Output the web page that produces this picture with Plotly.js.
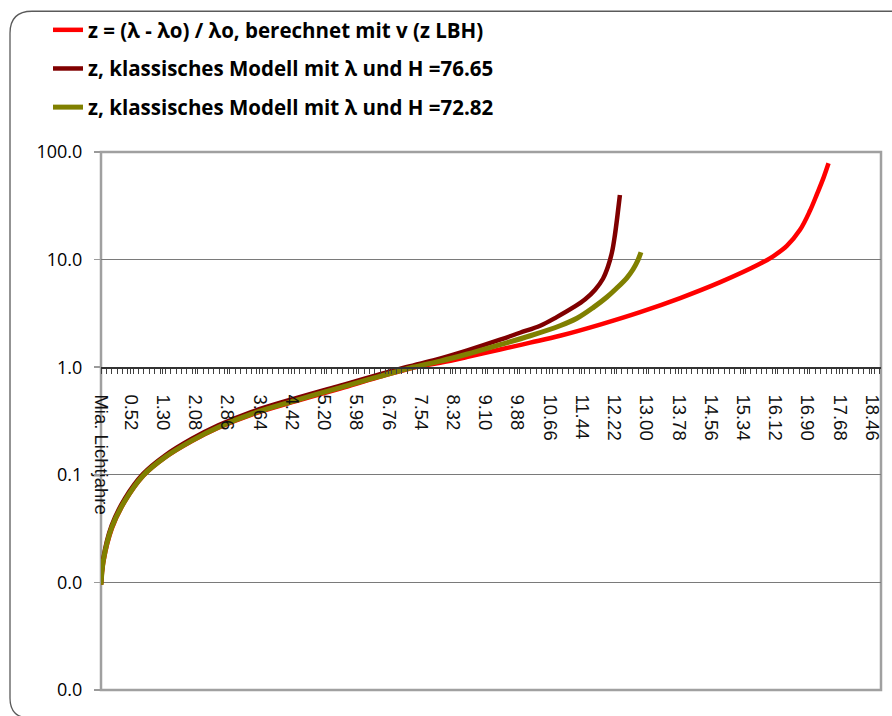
<!DOCTYPE html>
<html>
<head>
<meta charset="utf-8">
<script src="https://cdn.plot.ly/plotly-3.0.1.min.js"></script>
<style>html,body{margin:0;padding:0;background:#fff;}#chart{width:892px;height:716px;}</style>
</head>
<body>
<div id="chart"></div>
<script>
// Tick labels of the category axis (Mia. Lichtjahre)
const tickLabels = ["Mia. Lichtjahre","0.52","1.30","2.08","2.86","3.64","4.42","5.20","5.98","6.76","7.54","8.32","9.10","9.88","10.66","11.44","12.22","13.00","13.78","14.56","15.34","16.12","16.90","17.68","18.46"];
const tickPositions = [-0.2,0.52,1.30,2.08,2.86,3.64,4.42,5.20,5.98,6.76,7.54,8.32,9.10,9.88,10.66,11.44,12.22,13.00,13.78,14.56,15.34,16.12,16.90,17.68,18.46];

// Series names
const seriesNames = [
  "z = (λ - λo) / λo, berechnet mit v (z LBH)",
  "z, klassisches Modell mit λ und H =76.65",
  "z, klassisches Modell mit λ und H =72.82"
];

// Red series: z from v (z LBH)
const distRed = [-0.2,-0.14,0.06,0.38,0.82,1.35,2.0,2.64,3.45,4.5,5.59,6.5,7.40,8.01,8.65,9.46,10.19,10.91,11.88,12.85,13.82,14.79,15.75,16.07,16.40,16.72,16.96,17.13,17.29,17.41];
const zRed = [0.0095,0.0158,0.0316,0.0569,0.0977,0.145,0.206,0.274,0.363,0.481,0.634,0.804,1.0,1.10,1.24,1.46,1.69,1.96,2.49,3.25,4.39,6.17,9.14,10.74,13.4,18.9,28.4,40.6,57.8,78.5];

// Dark red series: classical model H = 76.65
const distDark = [-0.2,-0.14,0.06,0.38,0.82,1.35,2.0,2.64,3.45,4.5,5.59,7.18,7.91,8.65,9.46,9.94,10.43,10.83,11.23,11.52,11.76,11.95,12.07,12.17,12.24,12.30,12.36];
const zDark = [0.0097,0.0170,0.0339,0.0603,0.102,0.151,0.216,0.288,0.385,0.513,0.675,1.0,1.175,1.426,1.80,2.09,2.43,2.92,3.59,4.28,5.25,6.64,8.57,11.8,17.0,25.5,39.9];

// Olive series: classical model H = 72.82
const distOlive = [-0.2,-0.14,0.06,0.38,0.82,1.35,2.0,2.64,3.45,4.5,5.59,6.5,7.35,8.01,8.65,9.46,10.19,10.91,11.32,11.72,12.04,12.28,12.53,12.68,12.79,12.87];
const zOlive = [0.0095,0.0162,0.0324,0.0575,0.0986,0.146,0.208,0.277,0.369,0.490,0.646,0.813,1.0,1.14,1.32,1.62,1.96,2.43,2.85,3.60,4.47,5.42,6.78,8.13,9.75,11.7];

// Y tick labels (Excel number format 0.0)
const yTickVals = [0.001,0.01,0.1,1,10,100];
const yTickText = ["0.0","0.0","0.1","1.0","10.0","100.0"];

const traces = [
  {x: distRed, y: zRed, name: seriesNames[0], legendgroup:'a', mode:'lines',
   line:{color:'#FF0000', width:4.5, shape:'spline', smoothing:1}},
  {x: distDark, y: zDark, name: seriesNames[1], legendgroup:'b', mode:'lines',
   line:{color:'#800000', width:4.5, shape:'spline', smoothing:1}},
  {x: distOlive, y: zOlive, name: seriesNames[2], legendgroup:'c', mode:'lines',
   line:{color:'#808000', width:5, shape:'spline', smoothing:1}}
];

const L = 101, R = 881, T = 151, B = 690;
const px = v => (v - L) / (R - L);
const py = v => (B - v) / (B - T);
const framePath = 'M ' + px(900) + ',' + py(718) +
  ' L ' + px(30) + ',' + py(718) +
  ' Q ' + px(10) + ',' + py(718) + ' ' + px(10) + ',' + py(698) +
  ' L ' + px(10) + ',' + py(32) +
  ' Q ' + px(10) + ',' + py(10) + ' ' + px(32) + ',' + py(10) +
  ' L ' + px(900) + ',' + py(10);

const layout = {
  width: 892, height: 716,
  margin: {l: 101, r: 11, t: 151, b: 26, pad: 0},
  paper_bgcolor: '#ffffff', plot_bgcolor: '#ffffff',
  showlegend: true,
  legend: {
    x: px(48), xanchor: 'left', y: py(10), yanchor: 'top',
    font: {family: 'Open Sans', size: 20.5, color: '#000000', weight: 'bold'},
    tracegroupgap: 9, bgcolor: 'rgba(0,0,0,0)', borderwidth: 0
  },
  xaxis: {
    type: 'linear', range: [-0.2, 18.68],
    anchor: 'free', position: 0.6,
    showline: true, linecolor: '#333333', linewidth: 1.5,
    showgrid: false, zeroline: false,
    tickmode: 'array', tickvals: tickPositions, ticktext: tickLabels,
    tickangle: 90, ticks: 'outside', ticklen: 5, tickcolor: '#404040', tickwidth: 1,
    ticklabelstandoff: 17,
    tickfont: {family: 'Liberation Sans', size: 18.5, color: '#111111'},
    minor: {ticks: 'outside', ticklen: 5, dtick: 0.13, tick0: -0.2, tickcolor: '#404040', tickwidth: 1, showgrid: false}
  },
  yaxis: {
    type: 'log', range: [-3, 2],
    tickmode: 'array', tickvals: yTickVals, ticktext: yTickText,
    showgrid: true, gridcolor: '#7a7a7a', gridwidth: 1,
    zeroline: false, showline: false,
    ticks: 'outside', ticklen: 6, tickcolor: '#9a9a9a', tickwidth: 1.5,
    ticklabelstandoff: 8,
    tickfont: {family: 'Open Sans', size: 18, color: '#000000'}
  },
  shapes: [
    {type: 'rect', xref: 'paper', yref: 'paper', x0: 0, x1: 1, y0: 0, y1: 1,
     line: {color: '#a0a0a0', width: 2.5}, layer: 'between'},
    {type: 'path', xref: 'paper', yref: 'paper', path: framePath,
     line: {color: '#5a5a5a', width: 1.3}, layer: 'above'}
  ]
};

Plotly.newPlot('chart', traces, layout, {displayModeBar: false, staticPlot: true});
</script>
</body>
</html>
